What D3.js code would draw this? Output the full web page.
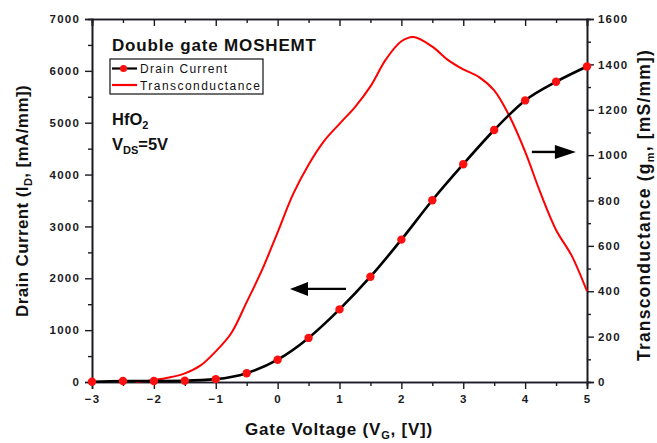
<!DOCTYPE html>
<html><head><meta charset="utf-8">
<script src="https://cdn.jsdelivr.net/npm/d3@7"></script>
<style>
body{margin:0;background:#fff}
svg{display:block;font-family:"Liberation Sans",Arial,sans-serif}
</style>
</head><body>
<svg id="c" width="657" height="443"></svg>
<script>
// ---- data ----
const vgDrain = [-3,-2.5,-2,-1.5,-1,-0.5,0,0.5,1,1.5,2,2.5,3,3.5,4,4.5,5];
const drainCurrent = [5,20,20,25,55,170,430,850,1400,2030,2745,3505,4200,4860,5430,5790,6085];
const vgGm = [-2.3,-2.0,-1.75,-1.5,-1.25,-1.0,-0.75,-0.5,-0.25,0,0.25,0.5,0.75,1.0,1.25,1.5,1.75,2.0,2.2,2.5,2.75,3.0,3.25,3.5,3.75,4.0,4.25,4.5,4.75,5.0];
const transconductance = [0,9,20,38,72,135,215,352,495,660,828,958,1062,1138,1212,1303,1422,1502,1521,1478,1420,1378,1345,1285,1170,1015,832,670,558,400];
const xTicks = [-3,-2,-1,0,1,2,3,4,5];
const xMinor = [-2.5,-1.5,-0.5,0.5,1.5,2.5,3.5,4.5];
const yLeftTicks = [0,1000,2000,3000,4000,5000,6000,7000];
const yLeftMinor = [500,1500,2500,3500,4500,5500,6500];
const yRightTicks = [0,200,400,600,800,1000,1200,1400,1600];
const yRightMinor = [100,300,500,700,900,1100,1300,1500];

// ---- layout ----
const L = 92, R = 587, T = 19, B = 382;
const svg = d3.select("#c");
const x = d3.scaleLinear().domain([-3,5]).range([L,R]);
const yL = d3.scaleLinear().domain([0,7000]).range([B,T]);
const yR = d3.scaleLinear().domain([0,1600]).range([B,T]);
const ink = "#1b1b24";

function styleAxis(g){
  g.select(".domain").attr("stroke", ink).attr("stroke-width", 1.6);
  g.selectAll(".tick line").attr("stroke", ink).attr("stroke-width", 1.4);
  g.selectAll(".tick text").attr("fill", ink).attr("font-weight","bold")
    .attr("font-size", 11.5).style("letter-spacing","1.2px");
}
function fit(sel, target){
  const n = sel.text().length;
  const len = sel.node().getComputedTextLength();
  sel.style("letter-spacing", ((target-len)/n) + "px");
}

// minor ticks
svg.append("g").attr("transform",`translate(0,${B})`)
  .call(d3.axisBottom(x).tickValues(xMinor).tickSize(4).tickFormat(""))
  .call(styleAxis);
svg.append("g").attr("transform",`translate(0,${T})`)
  .call(d3.axisTop(x).tickValues(xMinor).tickSize(-4).tickFormat(""))
  .call(styleAxis);
svg.append("g").attr("transform",`translate(${L},0)`)
  .call(d3.axisLeft(yL).tickValues(yLeftMinor).tickSize(4).tickFormat(""))
  .call(styleAxis);
svg.append("g").attr("transform",`translate(${R},0)`)
  .call(d3.axisRight(yR).tickValues(yRightMinor).tickSize(4).tickFormat(""))
  .call(styleAxis);

// major axes
svg.append("g").attr("transform",`translate(0,${B})`)
  .call(d3.axisBottom(x).tickValues(xTicks).tickSize(7).tickPadding(6).tickFormat(d3.format("d")))
  .call(styleAxis);
svg.append("g").attr("transform",`translate(0,${T})`)
  .call(d3.axisTop(x).tickValues(xTicks).tickSize(-7).tickFormat(""))
  .call(styleAxis);
svg.append("g").attr("transform",`translate(${L},0)`)
  .call(d3.axisLeft(yL).tickValues(yLeftTicks).tickSize(7).tickPadding(5).tickFormat(d3.format("d")))
  .call(styleAxis);
svg.append("g").attr("transform",`translate(${R},0)`)
  .call(d3.axisRight(yR).tickValues(yRightTicks).tickSize(7).tickPadding(4).tickFormat(d3.format("d")))
  .call(styleAxis);

// ---- series ----
const gmLine = d3.line().x((d,i)=>x(vgGm[i])).y(d=>yR(Math.max(0,d))).curve(d3.curveCatmullRom.alpha(0.5));
svg.append("path").datum(transconductance).attr("d", gmLine)
  .attr("fill","none").attr("stroke","#ff0000").attr("stroke-width",2);

const idLine = d3.line().x((d,i)=>x(vgDrain[i])).y(d=>yL(d)).curve(d3.curveMonotoneX);
svg.append("path").datum(drainCurrent).attr("d", idLine)
  .attr("fill","none").attr("stroke","#000").attr("stroke-width",2.6);
svg.append("g").selectAll("circle").data(drainCurrent).join("circle")
  .attr("cx",(d,i)=>x(vgDrain[i])).attr("cy",d=>yL(d)).attr("r",4.2).attr("fill","#ff1010");

// ---- arrows ----
function arrow(tipX, baseY, dir, headLen, tailLen){
  const yy = baseY;
  svg.append("line").attr("x1", tipX + dir*(headLen-2)).attr("x2", tipX + dir*tailLen)
    .attr("y1",yy).attr("y2",yy).attr("stroke","#000").attr("stroke-width",2.4);
  svg.append("path").attr("fill","#000")
    .attr("d", `M${tipX},${yy} L${tipX+dir*headLen},${yy-7} L${tipX+dir*headLen},${yy+7} Z`);
}
arrow(x(0.2), yL(1795), 1, 18, 56);     // points left toward left axis
arrow(x(4.82), yR(1014), -1, 21, 44);    // points right toward right axis

// ---- annotations ----
const ann = svg.append("g").attr("fill","#111").attr("font-weight","bold");
ann.append("text").attr("x",112).attr("y",51).attr("font-size",17)
  .attr("textLength",204).text("Double gate MOSHEMT");
const hf = ann.append("text").attr("x",112).attr("y",125).attr("font-size",16.5);
hf.append("tspan").text("HfO");
hf.append("tspan").attr("dy",4).attr("font-size",11).text("2");
const vds = ann.append("text").attr("x",112).attr("y",150).attr("font-size",16.5);
vds.append("tspan").text("V");
vds.append("tspan").attr("dy",4).attr("font-size",11).text("DS");
vds.append("tspan").attr("dy",-4).text("=5V");

// ---- legend ----
const lg = svg.append("g");
lg.append("rect").attr("x",110).attr("y",59).attr("width",153).attr("height",35)
  .attr("fill","#fff").attr("stroke","#111").attr("stroke-width",1.2);
lg.append("line").attr("x1",112).attr("x2",137).attr("y1",68.5).attr("y2",68.5)
  .attr("stroke","#000").attr("stroke-width",2.2);
lg.append("circle").attr("cx",123.5).attr("cy",68.5).attr("r",3.6).attr("fill","#ff1010");
lg.append("line").attr("x1",112).attr("x2",137).attr("y1",85).attr("y2",85)
  .attr("stroke","#ff0000").attr("stroke-width",2.2);
lg.append("text").attr("x",140).attr("y",72.5).attr("font-size",12).attr("fill","#111")
  .attr("textLength",87).text("Drain Current");
lg.append("text").attr("x",140).attr("y",89.5).attr("font-size",12).attr("fill","#111")
  .attr("textLength",120).text("Transconductance");

// ---- axis titles ----
const xt = svg.append("text").attr("x",339).attr("y",435).attr("text-anchor","middle")
  .attr("font-size",17).attr("font-weight","bold").attr("fill","#111");
xt.append("tspan").text("Gate Voltage (V");
xt.append("tspan").attr("dy",4).attr("font-size",11).text("G");
xt.append("tspan").attr("dy",-4).text(", [V])");
fit(xt, 188);

const ylt = svg.append("text").attr("transform","translate(28,201) rotate(-90)")
  .attr("text-anchor","middle").attr("font-size",17).attr("font-weight","bold").attr("fill","#111");
ylt.append("tspan").text("Drain Current (I");
ylt.append("tspan").attr("dy",4).attr("font-size",11).text("D");
ylt.append("tspan").attr("dy",-4).text(", [mA/mm])");
fit(ylt, 232);

const yrt = svg.append("text").attr("transform","translate(650,205) rotate(-90)")
  .attr("text-anchor","middle").attr("font-size",17.5).attr("font-weight","bold").attr("fill","#111");
yrt.append("tspan").text("Transconductance (g");
yrt.append("tspan").attr("dy",4).attr("font-size",11).text("m");
yrt.append("tspan").attr("dy",-4).text(", [mS/mm])");
fit(yrt, 312);
</script>
</body></html>
